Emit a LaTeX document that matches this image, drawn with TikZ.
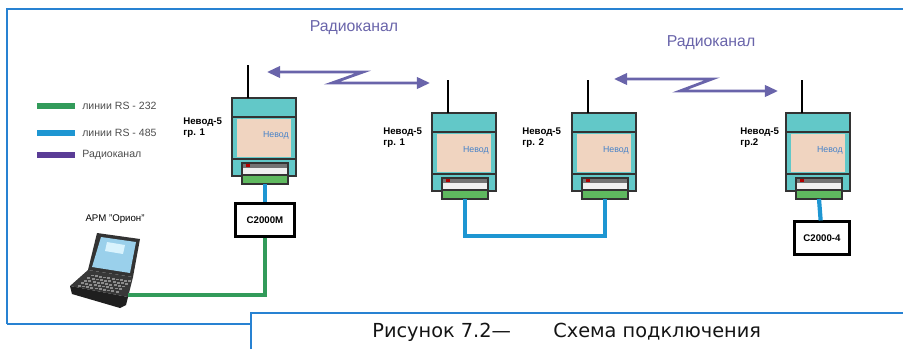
\documentclass[tikz,border=0pt]{standalone}
\usepackage{fontspec}
\setmainfont{Liberation Sans}
\newfontfamily\capfont{DejaVu Sans}
\usetikzlibrary{arrows.meta,calc}

\definecolor{devteal}{RGB}{98,200,200}
\definecolor{devpanel}{RGB}{240,212,192}
\definecolor{portgreen}{RGB}{95,185,95}
\definecolor{rs232}{RGB}{50,155,90}
\definecolor{rs485}{RGB}{30,150,210}
\definecolor{radio}{RGB}{105,100,170}
\definecolor{radioleg}{RGB}{90,60,150}
\definecolor{framebl}{RGB}{40,130,210}
\definecolor{tagblue}{RGB}{70,130,200}

\tikzset{
  dev_line/.style = {draw=black!80, line width=0.6pt},
  dev_name/.style = {align=left, inner sep=0pt, anchor=north west, font=\fontsize{5.5}{6.8}\selectfont\bfseries},
  dev_tag/.style  = {inner sep=0pt, text=tagblue, font=\fontsize{5}{6}\selectfont},
  blk/.style      = {draw=black, line width=1.2pt, fill=white, minimum width=#1, minimum height=33*0.02cm, inner sep=0pt, font=\fontsize{5.5}{6.5}\selectfont\bfseries},
  wire_232/.style = {draw=rs232, line width=2.4pt},
  wire_485/.style = {draw=rs485, line width=2.4pt},
  radio_ln/.style = {draw=radio, line width=1.6pt, >={Triangle[length=7.5pt,width=6.5pt]}},
  leg_txt/.style  = {anchor=west, inner sep=0pt, text=black!70, font=\fontsize{6}{7}\selectfont},
  cap_txt/.style  = {anchor=west, inner sep=0pt, text=black!92, font=\capfont\fontsize{11}{12}\selectfont},
  frame_ln/.style = {draw=framebl, line width=0.9pt},
  nevod/.pic = {
    \filldraw[fill=devteal, dev_line] (0,0) rectangle (64,78);
    \draw[dev_line] (0,19) -- (64,19);
    \fill[devpanel] (5,21) rectangle (59,59);
    \draw[dev_line] (0,61) -- (64,61);
    \draw[line width=1.6pt] (16,0) -- (16,-33) coordinate (-ant);
    \node[dev_tag, anchor=east] (-tag) at (57,37) {Невод};
    \fill[black!55] (10,65) rectangle (56,70);
    \fill[red!70!black] (14,66) rectangle (18,69);
    \fill[black!6] (10,70) rectangle (56,77);
    \draw[dev_line] (10,65) rectangle (56,77);
    \filldraw[fill=portgreen, dev_line] (10,77) rectangle (56,86);
    \coordinate (-port) at (33,86);
  }
}

\begin{document}
\begin{tikzpicture}[x=0.02cm, y=-0.02cm]
  \useasboundingbox (0,0) rectangle (903,349);

  % рамка и подпись
  \draw[frame_ln] (7,324) -- (7,9) -- (903,9);
  \draw[frame_ln] (7,324) -- (251,324);
  \draw[frame_ln] (251,349) -- (251,313) -- (903,313);
  \node[cap_txt] (capnum) at (372,332) {Рисунок 7.2—};
  \node[cap_txt] (captitle) at (553,332) {Схема подключения};

  % легенда
  \draw[wire_232, line width=3pt] (37,106) -- (75,106);
  \draw[wire_485, line width=3pt] (37,133) -- (75,133);
  \draw[draw=radioleg, line width=3pt] (37,155) -- (75,155);
  \node[leg_txt] (leg1) at (82,106) {линии RS - 232};
  \node[leg_txt] (leg2) at (82,133) {линии RS - 485};
  \node[leg_txt] (leg3) at (82,155) {Радиоканал};

  % приборы
  \pic (d1) at (232,98) {nevod};
  \pic (d2) at (432,113) {nevod};
  \pic (d3) at (572,113) {nevod};
  \pic (d4) at (786,113) {nevod};
  \node[dev_name] (n1) at (183,117) {Невод-5\\гр. 1};
  \node[dev_name] (n2) at (383,127) {Невод-5\\гр. 1};
  \node[dev_name] (n3) at (522,127) {Невод-5\\гр. 2};
  \node[dev_name] (n4) at (740,127) {Невод-5\\гр.2};

  \node[blk=59*0.02cm] (c2000m) at (265,220) {С2000М};
  \node[blk=55*0.02cm] (c2000x) at (822,238) {С2000-4};

  % радиоканалы
  \node[text=radio, font=\fontsize{9}{10}\selectfont] (rk1) at (354,28) {Радиоканал};
  \node[text=radio, font=\fontsize{9}{10}\selectfont] (rk2) at (711,43) {Радиоканал};
  \coordinate (r1a) at (267,72);
  \coordinate (r1b) at (430,83);
  \coordinate (r2a) at (614,79);
  \coordinate (r2b) at (778,91);
  \draw[radio_ln, <->] (r1a) -- (363,72) -- (332,83) -- (r1b);
  \draw[radio_ln, <->] (r2a) -- (712,79) -- (680,91) -- (r2b);

  % АРМ
  \node[inner sep=0pt, font=\fontsize{5.5}{6.5}\selectfont] (armtxt) at (115,219) {АРМ "Орион"};
  \fill[black!80] (97,233) -- (140,239) -- (133,277) -- (88,270) -- cycle;
  \fill[rs485!45!white] (101,237) -- (136,242) -- (130,273) -- (92,267) -- cycle;
  \fill[white!85!cyan] (107,242) -- (125,245) -- (123,254) -- (105,251) -- cycle;
  \fill[black!78] (88,270) -- (133,277) -- (128,297) -- (70,286) -- cycle;
  \fill[black!88] (70,286) -- (128,297) -- (126,305) -- (120,308) -- (72,294) -- cycle;
  \foreach \i in {0,...,9}
    \foreach \j in {0,...,4}
      \fill[black!45] ($(90,273)+({(\i+0.5)*4.2-(\j+0.5)*3.2},{(\i+0.5)*0.65+(\j+0.5)*2.6})$) rectangle ++(3,1.8);
  \coordinate (arm) at (128,295);

  % линии связи
  \draw[wire_485] (d1-port) -- (c2000m);
  \draw[wire_232] (c2000m) |- (arm);
  \draw[wire_485] (d2-port) -- ++(0,37) -| (d3-port);
  \draw[wire_485] (d4-port) -- (c2000x);
\end{tikzpicture}
\end{document}
